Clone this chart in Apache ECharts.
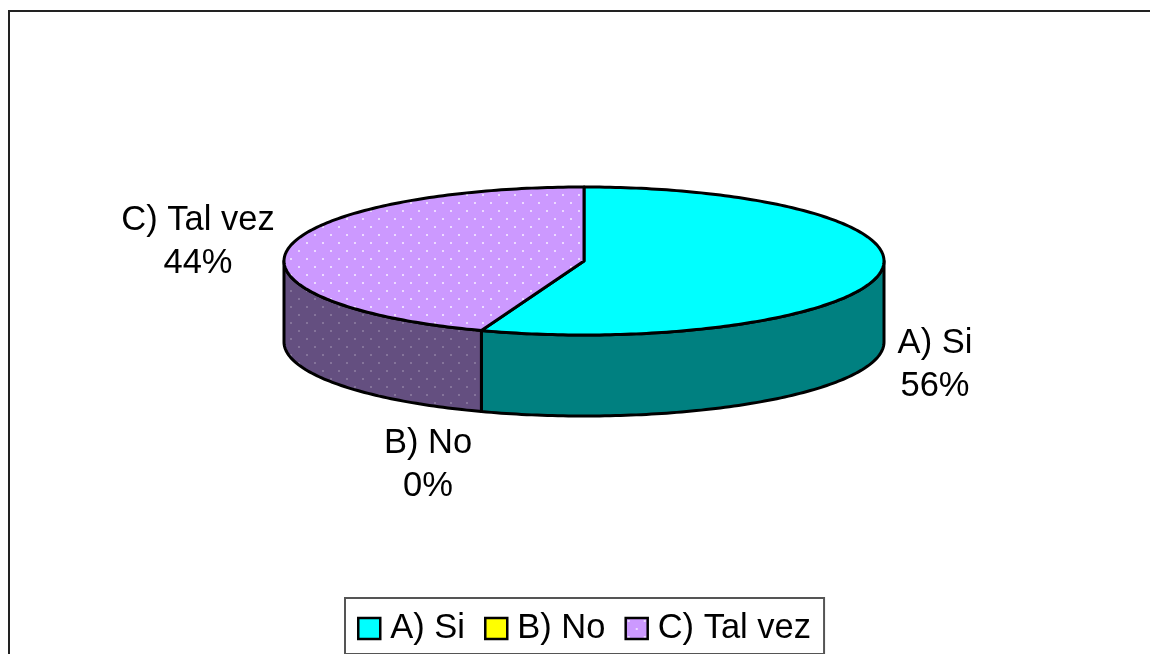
<!DOCTYPE html>
<html>
<head>
<meta charset="utf-8">
<style>
  html, body { margin: 0; padding: 0; background: #fff; }
  #chart { width: 1150px; height: 654px; }
</style>
<script src="https://cdn.jsdelivr.net/npm/echarts@6/dist/echarts.min.js"></script>
</head>
<body>
<div id="chart"></div>
<script>
const categories = ['A) Si', 'B) No', 'C) Tal vez']
const counts = [5, 0, 4]

const fontName = '"Liberation Sans", Arial, sans-serif'
// pie layout: centre and radii of the tilted top, height of the rim
const cx = 584, cy = 261, rx = 300, ry = 74, depth = 81
const labelCentres = [[935, 365], [428, 465], [198, 242]]

function dots(bg, dot, radius) {
  const c = document.createElement('canvas')
  c.width = c.height = 16
  const ctx = c.getContext('2d')
  ctx.fillStyle = bg
  ctx.fillRect(0, 0, 16, 16)
  ctx.fillStyle = dot
  ;[[3, 3], [11, 11]].forEach(function (p) {
    ctx.beginPath()
    ctx.arc(p[0], p[1], radius, 0, Math.PI * 2)
    ctx.fill()
  })
  return { image: c, repeat: 'repeat' }
}

const topColors = ['#00FFFF', '#FFFF00', dots('#CC99FF', 'rgba(255,255,255,0.85)', 1)]
const sideColors = ['#008080', '#808000', dots('#644F80', 'rgba(255,255,255,0.28)', 1)]

const total = counts.reduce(function (a, b) { return a + b }, 0)

// angle is measured clockwise from the top of the pie, in degrees
function rim(deg, drop) {
  const t = deg * Math.PI / 180
  return [cx + rx * Math.sin(t), cy - ry * Math.cos(t) + (drop || 0)]
}
function arc(from, to, drop) {
  const pts = []
  for (let a = from; a < to; a += 1) pts.push(rim(a, drop))
  pts.push(rim(to, drop))
  return pts
}

function renderSlice(i) {
  return function (params, api) {
    const start = api.value(0) / total * 360
    const end = api.value(1) / total * 360
    const line = { stroke: '#000', lineWidth: 3, lineJoin: 'round' }
    const children = []
    if (end > start) {
      // front part of the rim only, the back is hidden by the top
      const from = Math.max(start, 90), to = Math.min(end, 270)
      if (to > from) {
        children.push({
          type: 'polygon',
          shape: { points: arc(from, to, 0).concat(arc(from, to, depth).reverse()) },
          style: Object.assign({ fill: sideColors[i] }, line)
        })
      }
      children.push({
        type: 'polygon',
        shape: { points: [[cx, cy]].concat(arc(start, end, 0)) },
        style: Object.assign({ fill: topColors[i] }, line)
      })
    }
    children.push({
      type: 'text',
      x: labelCentres[i][0],
      y: labelCentres[i][1],
      style: {
        text: categories[i] + '\n' + Math.round(counts[i] / total * 100) + '%',
        fill: '#000',
        font: '34.5px ' + fontName,
        lineHeight: 43,
        align: 'center',
        verticalAlign: 'middle'
      }
    })
    return { type: 'group', children: children }
  }
}

let running = 0
const series = categories.map(function (name, i) {
  const start = running
  running += counts[i]
  return {
    type: 'custom',
    name: name,
    coordinateSystem: 'none',
    animation: false,
    silent: true,
    itemStyle: { color: topColors[i] },
    data: [[start, running]],
    renderItem: renderSlice(i)
  }
})

const chart = echarts.init(document.getElementById('chart'))
chart.setOption({
  animation: false,
  backgroundColor: '#fff',
  graphic: [
    { type: 'line', silent: true, shape: { x1: 9, y1: 11, x2: 9, y2: 654 }, style: { stroke: '#222', lineWidth: 2 } },
    { type: 'line', silent: true, shape: { x1: 8, y1: 11, x2: 1150, y2: 11 }, style: { stroke: '#222', lineWidth: 2 } }
  ],
  legend: {
    left: 345,
    top: 598,
    padding: [13, 13, 8, 12],
    itemGap: 19,
    itemWidth: 22,
    itemHeight: 21,
    icon: 'rect',
    borderColor: '#555',
    borderWidth: 2,
    backgroundColor: '#fff',
    selectedMode: false,
    data: categories,
    itemStyle: { borderColor: '#000', borderWidth: 2.5 },
    textStyle: { color: '#000', fontFamily: fontName, fontSize: 34.5, padding: [0, 0, 0, 5] }
  },
  series: series
})
</script>
</body>
</html>
